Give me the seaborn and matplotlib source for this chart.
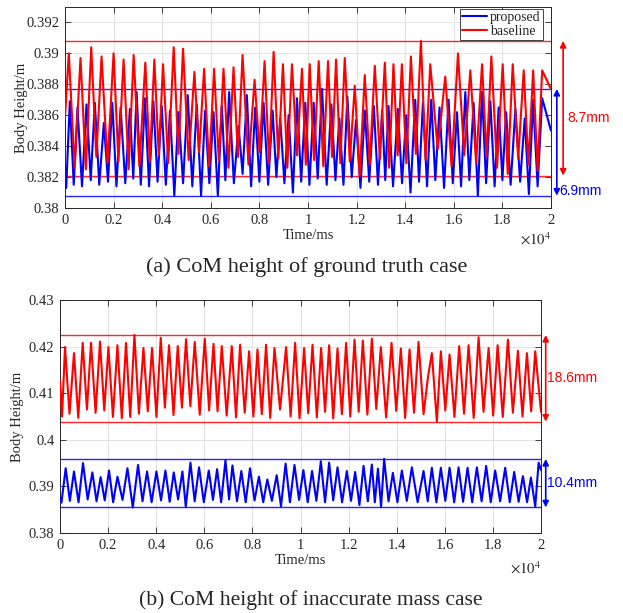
import numpy as np
import pandas as pd
import matplotlib
matplotlib.use("Agg")
import matplotlib.pyplot as plt
from matplotlib.ticker import FuncFormatter, FixedLocator
import seaborn as sns

# ---------------- data ----------------
# (a) ground truth case -- baseline (red)
a_base_peak_t = [157, 639, 1080, 1505, 2000, 2412, 2825, 3306, 3677, 4034, 4474, 4859, 5326, 5725,
                 6137, 6524, 6936, 7307, 7802, 8214, 8586, 8969, 9340, 9753, 10070, 10441, 10825,
                 11155, 11513, 11925, 12337, 12750, 13162, 13518, 13864, 14235, 14647, 15031, 15649,
                 16173, 16680, 17163, 17546, 18012, 18425, 18878, 19266, 19637]
a_base_peak_v = [0.3900, 0.3897, 0.3904, 0.3898, 0.3900, 0.3896, 0.3899, 0.3894, 0.3896, 0.3893,
                 0.3904, 0.3903, 0.3888, 0.3890, 0.3890, 0.3890, 0.3891, 0.3899, 0.3883, 0.3895,
                 0.3901, 0.3893, 0.3893, 0.3890, 0.3893, 0.3895, 0.3895, 0.3896, 0.3897, 0.3879,
                 0.3886, 0.3892, 0.3894, 0.3893, 0.3893, 0.3898, 0.3908, 0.3893, 0.3885, 0.3900,
                 0.3889, 0.3893, 0.3898, 0.3893, 0.3893, 0.3889, 0.3889, 0.3889]
a_base_trough_t = [0, 400, 860, 1290, 1750, 2200, 2620, 3060, 3490, 3860, 4250, 4670, 5090, 5520,
                   5930, 6330, 6730, 7120, 7550, 8010, 8400, 8780, 9150, 9550, 9910, 10250, 10630,
                   10990, 11330, 11720, 12130, 12540, 12960, 13340, 13690, 14050, 14440, 14840,
                   15340, 15910, 16430, 16920, 17350, 17780, 18220, 18650, 19070, 19450, 20000]
a_base_trough_v = [0.3858, 0.3826, 0.3825, 0.3833, 0.3829, 0.3830, 0.3825, 0.3827, 0.3830, 0.3834,
                   0.3829, 0.3835, 0.3831, 0.3836, 0.3827, 0.3831, 0.3826, 0.3833, 0.3828, 0.3836,
                   0.3829, 0.3832, 0.3826, 0.3834, 0.3828, 0.3831, 0.3827, 0.3833, 0.3829, 0.3830,
                   0.3821, 0.3828, 0.3832, 0.3826, 0.3834, 0.3829, 0.3835, 0.3831, 0.3838, 0.3827,
                   0.3834, 0.3829, 0.3833, 0.3826, 0.3822, 0.3832, 0.3828, 0.3824, 0.3877]

# (a) ground truth case -- proposed (blue)
a_prop_peak_t = [200, 515, 887, 1229, 1600, 1946, 2289, 2672, 2948, 3291, 3637, 3979, 4322, 4668,
                 5052, 5423, 5765, 6111, 6454, 6755, 7142, 7485, 7827, 8173, 8544, 8858, 9204, 9546,
                 9889, 10235, 10577, 10961, 11291, 11621, 11979, 12338, 12709, 13052, 13312, 13699,
                 14041, 14412, 14730, 15072, 15414, 15786, 16132, 16474, 16816, 17163, 17505, 17847,
                 18152, 18536, 18920, 19266, 19637]
a_prop_peak_v = [0.3869, 0.3865, 0.3867, 0.3868, 0.3855, 0.3868, 0.3865, 0.3864, 0.3875, 0.3871,
                 0.3869, 0.3866, 0.3863, 0.3862, 0.3873, 0.3867, 0.3863, 0.3862, 0.3866, 0.3875,
                 0.3853, 0.3873, 0.3865, 0.3868, 0.3863, 0.3858, 0.3860, 0.3871, 0.3868, 0.3868,
                 0.3877, 0.3867, 0.3858, 0.3872, 0.3857, 0.3863, 0.3866, 0.3863, 0.3866, 0.3864,
                 0.3860, 0.3870, 0.3868, 0.3870, 0.3865, 0.3870, 0.3862, 0.3875, 0.3868, 0.3875,
                 0.3869, 0.3865, 0.3862, 0.3864, 0.3858, 0.3870, 0.3871]
a_prop_trough_t = [0, 50, 360, 700, 1060, 1410, 1770, 2120, 2480, 2810, 3120, 3460, 3810, 4150,
                   4500, 4860, 5240, 5600, 5940, 6290, 6600, 6950, 7310, 7660, 8000, 8360, 8700,
                   9030, 9380, 9720, 10060, 10400, 10770, 11130, 11460, 11800, 12160, 12520, 12880,
                   13180, 13500, 13870, 14220, 14570, 14900, 15240, 15600, 15960, 16300, 16640,
                   16990, 17330, 17680, 18000, 18340, 18730, 19090, 19450, 20000]
a_prop_trough_v = [0.3818, 0.3813, 0.3815, 0.3814, 0.3818, 0.3815, 0.3817, 0.3814, 0.3816, 0.3819,
                   0.3815, 0.3814, 0.3817, 0.3815, 0.3808, 0.3816, 0.3814, 0.3808, 0.3816, 0.3808,
                   0.3818, 0.3816, 0.3822, 0.3814, 0.3817, 0.3815, 0.3820, 0.3816, 0.3810, 0.3817,
                   0.3815, 0.3819, 0.3815, 0.3818, 0.3815, 0.3820, 0.3813, 0.3817, 0.3815, 0.3818,
                   0.3814, 0.3816, 0.3810, 0.3817, 0.3814, 0.3818, 0.3813, 0.3816, 0.3814, 0.3818,
                   0.3808, 0.3816, 0.3814, 0.3818, 0.3815, 0.3817, 0.3809, 0.3814, 0.3850]

# (b) inaccurate mass case -- baseline (red)
b_base_peak_t = [208, 582, 944, 1290, 1664, 2013, 2388, 2745, 3095, 3469, 3827, 4189, 4534, 4896,
                 5241, 5603, 6019, 6381, 6726, 7142, 7488, 7862, 8211, 8569, 8918, 9401, 9775,
                 10150, 10499, 10857, 11190, 11539, 11897, 12246, 12592, 12966, 13340, 13785,
                 14172, 14534, 14908, 15461, 15836, 16198, 16597, 16988, 17404, 17820, 18195,
                 18623, 19039, 19414, 19759]
b_base_peak_v = [0.4199, 0.4186, 0.4208, 0.4208, 0.4211, 0.4199, 0.4203, 0.4208, 0.4225, 0.4197,
                 0.4197, 0.4219, 0.4203, 0.4201, 0.4216, 0.4210, 0.4217, 0.4206, 0.4201, 0.4201,
                 0.4204, 0.4190, 0.4194, 0.4204, 0.4197, 0.4199, 0.4208, 0.4197, 0.4204, 0.4197,
                 0.4203, 0.4196, 0.4208, 0.4215, 0.4213, 0.4217, 0.4199, 0.4208, 0.4196, 0.4194,
                 0.4210, 0.4186, 0.4190, 0.4183, 0.4201, 0.4203, 0.4220, 0.4197, 0.4203, 0.4215,
                 0.4191, 0.4186, 0.4190]
b_base_trough_t = [0, 85, 395, 760, 1120, 1480, 1840, 2200, 2570, 2920, 3280, 3650, 4010, 4360,
                   4720, 5070, 5420, 5810, 6200, 6550, 6930, 7320, 7680, 8040, 8390, 8740, 9150,
                   9590, 9960, 10320, 10680, 11020, 11360, 11720, 12070, 12420, 12780, 13150,
                   13560, 13980, 14350, 14720, 15116, 15295, 15670, 16020, 16400, 16800, 17200,
                   17610, 18010, 18410, 18830, 19230, 19590, 20000]
b_base_trough_v = [0.4129, 0.4050, 0.4056, 0.4047, 0.4065, 0.4058, 0.4063, 0.4049, 0.4046, 0.4049,
                   0.4056, 0.4061, 0.4049, 0.4069, 0.4053, 0.4069, 0.4072, 0.4054, 0.4063, 0.4061,
                   0.4052, 0.4048, 0.4058, 0.4050, 0.4055, 0.4047, 0.4065, 0.4050, 0.4046, 0.4057,
                   0.4048, 0.4060, 0.4046, 0.4055, 0.4050, 0.4060, 0.4054, 0.4066, 0.4048, 0.4062,
                   0.4047, 0.4058, 0.4055, 0.4133, 0.4039, 0.4063, 0.4049, 0.4056, 0.4047, 0.4060,
                   0.4052, 0.4049, 0.4058, 0.4050, 0.4061, 0.4060]

# (b) inaccurate mass case -- proposed (blue)
b_prop_peak_t = [237, 582, 957, 1346, 1691, 2038, 2388, 2804, 3245, 3619, 4010, 4384, 4730, 5091,
                 5424, 5782, 6186, 6531, 6880, 7171, 7540, 7900, 8270, 8620, 9010, 9380, 9750,
                 10120, 10480, 10845, 11190, 11539, 11926, 12271, 12621, 12966, 13220, 13478,
                 13840, 14214, 14630, 15116, 15461, 15836, 16198, 16572, 16946, 17333, 17720,
                 18095, 18511, 18885, 19247, 19580, 19900]
b_prop_peak_v = [0.3939, 0.3932, 0.3950, 0.3930, 0.3920, 0.3934, 0.3921, 0.3939, 0.3946, 0.3932,
                 0.3932, 0.3934, 0.3930, 0.3932, 0.3951, 0.3941, 0.3934, 0.3937, 0.3956, 0.3945,
                 0.3933, 0.3939, 0.3921, 0.3915, 0.3924, 0.3949, 0.3946, 0.3935, 0.3933, 0.3954,
                 0.3951, 0.3941, 0.3933, 0.3931, 0.3944, 0.3947, 0.3938, 0.3959, 0.3929, 0.3934,
                 0.3941, 0.3933, 0.3940, 0.3940, 0.3940, 0.3941, 0.3940, 0.3941, 0.3944, 0.3934,
                 0.3940, 0.3931, 0.3922, 0.3919, 0.3951]
b_prop_trough_t = [0, 60, 410, 770, 1150, 1520, 1860, 2210, 2600, 3026, 3430, 3810, 4200, 4560,
                   4910, 5230, 5600, 5980, 6360, 6700, 7030, 7360, 7720, 8090, 8450, 8810, 9190,
                   9560, 9940, 10300, 10660, 11020, 11360, 11730, 12100, 12450, 12800, 13090,
                   13350, 13660, 14030, 14420, 14870, 15290, 15650, 16020, 16390, 16760, 17140,
                   17530, 17910, 18300, 18700, 19070, 19420, 19760, 20000]
b_prop_trough_v = [0.3876, 0.3865, 0.3869, 0.3866, 0.3872, 0.3868, 0.3870, 0.3866, 0.3871, 0.3855,
                   0.3868, 0.3866, 0.3870, 0.3867, 0.3872, 0.3856, 0.3868, 0.3866, 0.3871, 0.3866,
                   0.3872, 0.3868, 0.3866, 0.3870, 0.3866, 0.3869, 0.3857, 0.3866, 0.3871, 0.3866,
                   0.3869, 0.3866, 0.3870, 0.3866, 0.3869, 0.3860, 0.3868, 0.3866, 0.3856, 0.3868,
                   0.3866, 0.3869, 0.3866, 0.3868, 0.3866, 0.3869, 0.3866, 0.3867, 0.3866, 0.3868,
                   0.3866, 0.3868, 0.3866, 0.3867, 0.3866, 0.3857, 0.3935]

series_labels = ["proposed", "baseline"]
range_labels_a = ["6.9mm", "8.7mm"]
range_labels_b = ["10.4mm", "18.6mm"]
captions = ["(a) CoM height of ground truth case", "(b) CoM height of inaccurate mass case"]
x_ticks = [0, 2000, 4000, 6000, 8000, 10000, 12000, 14000, 16000, 18000, 20000]
y_ticks_a = [0.380, 0.382, 0.384, 0.386, 0.388, 0.390, 0.392]
y_ticks_b = [0.38, 0.39, 0.40, 0.41, 0.42, 0.43]


def make_series(pt, pv, tt, tv):
    df = pd.DataFrame({"t": list(pt) + list(tt), "h": list(pv) + list(tv)})
    return df.sort_values("t").reset_index(drop=True)


# ---------------- style ----------------
sns.set_theme(style="ticks")
plt.rcParams["font.family"] = ["Liberation Serif", "DejaVu Serif"]
plt.rcParams["mathtext.fontset"] = "stix"
plt.rcParams["lines.solid_joinstyle"] = "round"

BLUE = "#0000ff"
RED = "#ff0000"
AX_EDGE = "#262626"
SANS = ["Liberation Sans", "DejaVu Sans"]

fig = plt.figure(figsize=(6.23, 6.13), dpi=100)
ax_a = fig.add_axes([0.1043, 0.6607, 0.7801, 0.3279])
ax_b = fig.add_axes([0.0963, 0.1305, 0.7721, 0.3801])

panels = [
    (ax_a, make_series(a_prop_peak_t, a_prop_peak_v, a_prop_trough_t, a_prop_trough_v),
     make_series(a_base_peak_t, a_base_peak_v, a_base_trough_t, a_base_trough_v),
     (0.380, 0.393), y_ticks_a, range_labels_a, -0.076),
    (ax_b, make_series(b_prop_peak_t, b_prop_peak_v, b_prop_trough_t, b_prop_trough_v),
     make_series(b_base_peak_t, b_base_peak_v, b_base_trough_t, b_base_trough_v),
     (0.38, 0.43), y_ticks_b, range_labels_b, -0.075),
]


def double_arrow(ax, x, y0, y1, color):
    tr = ax.get_yaxis_transform()
    ax.annotate("", xy=(x, y0), xytext=(x, y1), xycoords=tr, textcoords=tr,
                arrowprops=dict(arrowstyle="<|-|>", color=color, lw=1.2, mutation_scale=9,
                                shrinkA=0, shrinkB=0), annotation_clip=False)


for i, (ax, prop, base, ylim, yt, rlab, ylab_x) in enumerate(panels):
    sns.lineplot(data=prop, x="t", y="h", ax=ax, color=BLUE, lw=1.5, estimator=None,
                 label=series_labels[0] if i == 0 else None, zorder=3)
    sns.lineplot(data=base, x="t", y="h", ax=ax, color=RED, lw=1.5, estimator=None,
                 label=series_labels[1] if i == 0 else None, zorder=3)
    # max / min lines
    for df, col in ((prop, BLUE), (base, RED)):
        for val in (df["h"].max(), df["h"].min()):
            ax.axhline(val, color=col, lw=1.0, alpha=0.85, zorder=2)

    ax.set_xlim(0, 20000)
    ax.set_ylim(*ylim)
    ax.xaxis.set_major_locator(FixedLocator(x_ticks))
    ax.xaxis.set_major_formatter(FuncFormatter(lambda v, p: f"{v / 1e4:g}"))
    ax.yaxis.set_major_locator(FixedLocator(yt))
    ax.yaxis.set_major_formatter(FuncFormatter(lambda v, p: f"{round(v, 4):g}"))
    ax.grid(True, color="#e3e3e3", lw=0.8, zorder=0)
    ax.set_axisbelow(True)
    for sp in ax.spines.values():
        sp.set_visible(True)
        sp.set_color(AX_EDGE)
        sp.set_linewidth(0.7)
    ax.tick_params(direction="in", length=4, width=0.6, top=True, right=True,
                   labelsize=10.5, colors=AX_EDGE, pad=4)
    ax.tick_params(labelcolor="#262626")
    ax.set_xlabel("Time/ms", fontsize=10.5, labelpad=2, color="#262626")
    ax.set_ylabel("Body Height/m", fontsize=10.5, color="#262626")
    ax.yaxis.set_label_coords(ylab_x, 0.5)
    ax.text(1.0, -0.115, r"$\times10^{4}$", transform=ax.transAxes, ha="right", va="top",
            fontsize=10.5, color="#262626")

    tr = ax.get_yaxis_transform()
    pmax, pmin = prop["h"].max(), prop["h"].min()
    bmax, bmin = base["h"].max(), base["h"].min()
    if i == 0:
        double_arrow(ax, 1.025, bmax, bmin, RED)
        double_arrow(ax, 1.012, pmax, pmin, BLUE)
        ax.text(1.033, (bmax + bmin) / 2 - 0.0006, rlab[1], transform=tr, color=RED,
                fontsize=10, family=SANS, va="center", ha="left")
        ax.text(1.018, pmin + 0.0003, rlab[0], transform=tr, color=BLUE,
                fontsize=10, family=SANS, va="center", ha="left")
    else:
        double_arrow(ax, 1.0098, bmax, bmin, RED)
        double_arrow(ax, 1.0098, pmax, pmin, BLUE)
        ax.text(1.0125, (bmax + bmin) / 2, rlab[1], transform=tr, color=RED,
                fontsize=10, family=SANS, va="center", ha="left")
        ax.text(1.0125, (pmax + pmin) / 2, rlab[0], transform=tr, color=BLUE,
                fontsize=10, family=SANS, va="center", ha="left")

leg = ax_a.legend(loc="upper right", bbox_to_anchor=(0.9835, 0.99), fontsize=10,
                  frameon=True, fancybox=False, edgecolor="#262626", framealpha=1,
                  borderpad=0.15, labelspacing=0.05, handlelength=1.8, handletextpad=0.25,
                  borderaxespad=0.0)
leg.get_frame().set_linewidth(0.6)
for h in leg.get_lines():
    h.set_linewidth(1.5)

fig.text(0.493, 1 - 267 / 613, captions[0], ha="center", va="center", fontsize=16)
fig.text(0.499, 1 - 600 / 613, captions[1], ha="center", va="center", fontsize=15.6)

fig.savefig("out.png", dpi=100)
